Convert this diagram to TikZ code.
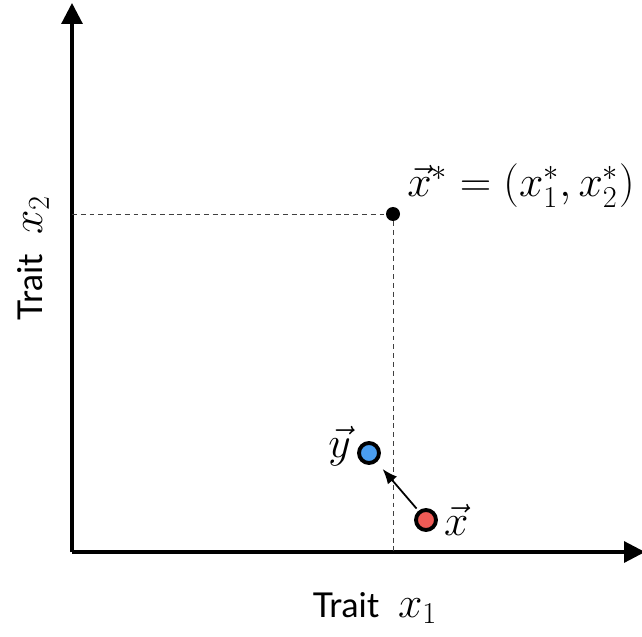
\documentclass[tikz,border=0pt]{standalone}
\usepackage{amsmath}
\usepackage{fontspec}
\newfontfamily\traitfont{Lato}
\usepackage{xcolor}
\usepackage{tikz}
\usetikzlibrary{arrows.meta,positioning,calc}
\definecolor{TraitRed}{HTML}{EE5A55}
\definecolor{TraitBlue}{HTML}{4A9EF0}

\newcommand{\traitword}{{\traitfont\fontsize{19.5}{23}\selectfont Trait}}

\begin{document}
\begin{tikzpicture}[font=\fontsize{23}{27}\selectfont,
    axis/.style={line width=1.8pt,-{Triangle[length=0.42cm,width=0.42cm]}},
    guide/.style={dash pattern=on 2.8pt off 2.2pt,line width=0.5pt,black!75},
    pop/.style={circle,draw,line width=2.2pt,minimum size=0.4cm,inner sep=0pt}]
  \useasboundingbox (0,0) rectangle (12.84,12.72);
  \coordinate (O) at (1.44,1.68);
  \coordinate (ytop) at (1.44,12.66);
  \coordinate (xend) at (12.9,1.68);
  \draw[axis] (O) -- (ytop);
  \draw[axis] (O) -- (xend);
  \node[circle,fill=black,minimum size=0.28cm,inner sep=0pt] (xstar) at (7.86,8.44) {};
  \coordinate (xstarY) at (O |- xstar);
  \coordinate (xstarX) at (xstar |- O);
  \draw[guide] (xstarY) -- (xstar.west);
  \draw[guide] (xstar.south) -- (xstarX);
  \node[pop,fill=TraitBlue] (ydot) at (7.38,3.66) {};
  \node[pop,fill=TraitRed] (xdot) at (8.52,2.32) {};
  \draw[line width=1pt,-{Latex[length=0.3cm,width=0.24cm]}] (xdot.north west) ++(-0.02,0.06) -- ($(ydot)!0.42cm!(xdot)$);
  \node[left=0.0cm of ydot,yshift=0.14cm] (ylab) {$\vec{y}$};
  \node[right=0.0cm of xdot] (xlab) {$\vec{x}$};
  \node[above right=-0.1cm and 0.06cm of xstar] (xstarlab) {$\vec{x}^{*}=(x_1^{*},x_2^{*})$};
  \node (xaxlab) at (7.5,0.56) {\traitword\ \,$x_1$};
  \node[rotate=90] (yaxlab) at (0.66,7.56) {\traitword\ \,$x_2$};
\end{tikzpicture}
\end{document}
